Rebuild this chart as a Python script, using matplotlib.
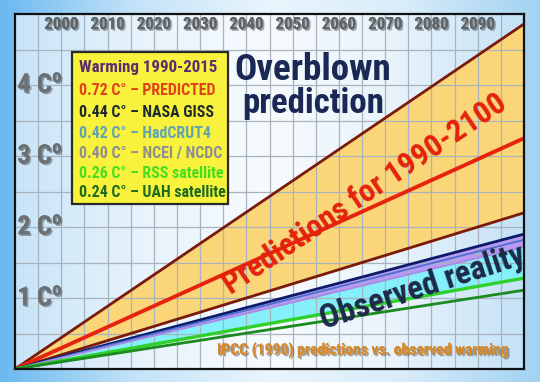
import numpy as np
import matplotlib
matplotlib.use("Agg")
import matplotlib.pyplot as plt
import matplotlib.patheffects as pe
from matplotlib.colors import LinearSegmentedColormap
from matplotlib.patches import Rectangle
from matplotlib import font_manager

# data: warming (C) reached in 2100, lines start at 1990 / 0
years = [1990, 2100]
pred_upper = [0, 4.86]
pred_central = [0, 3.25]
pred_lower = [0, 2.20]
obs_names = ["NASA GISS", "HadCRUT4", "NCEI / NCDC", "RSS satellite", "UAH satellite"]
obs_2100 = [1.90, 1.82, 1.72, 1.28, 1.11]
obs_colors = ["#0b1a6a", "#4a6fd0", "#a98ae6", "#2fd02a", "#1b8a1f"]
obs_widths = [2.0, 1.3, 1.3, 2.4, 2.0]

legend_title = "Warming 1990-2015"
legend_lines = ["0.72 C° – PREDICTED", "0.44 C° – NASA GISS", "0.42 C° – HadCRUT4",
                "0.40 C° – NCEI / NCDC", "0.26 C° – RSS satellite", "0.24 C° – UAH satellite"]
legend_colors = ["#e0401a", "#1e2a30", "#5fa3b4", "#8e8e8e", "#44e020", "#1d6a1d"]

decades = list(range(2000, 2100, 10))
degrees = [1, 2, 3, 4]

# narrow font if there is one, text is fitted to measured widths anyway
names = {f.name for f in font_manager.fontManager.ttflist}
family = "Liberation Sans"
for cand in ["Liberation Sans Narrow", "Roboto Condensed", "Open Sans Condensed", "Liberation Sans"]:
    if cand in names:
        family = cand
        break
plt.rcParams["font.family"] = [family, "DejaVu Sans"]
plt.rcParams["font.weight"] = "bold"
plt.rcParams["mathtext.fontset"] = "custom"
plt.rcParams["mathtext.bf"] = family + ":bold"

fig = plt.figure(figsize=(5.4, 3.82), dpi=100)

# outer background gradient
bg = fig.add_axes([0, 0, 1, 1], zorder=-10)
cmap_out = LinearSegmentedColormap.from_list("out", ["#6cb9f0", "#c4e3f8", "#eaf5fd", "#d8ecf9", "#a2d2f2"])
bg.imshow(np.linspace(0, 1, 256)[None, :], cmap=cmap_out, aspect="auto", extent=[0, 1, 0, 1])
bg.axis("off")

ax = fig.add_axes([15 / 540, 13 / 382, 509 / 540, 355 / 382])
ax.set_xlim(1990, 2100)
ax.set_ylim(0, 5)

# inner background gradient
cmap_in = LinearSegmentedColormap.from_list("inn", ["#c8e4f8", "#e8f3fc", "#f7fbfe", "#e8f3fb", "#c4e2f7"])
ax.imshow(np.linspace(0, 1, 256)[None, :], cmap=cmap_in, aspect="auto",
          extent=[1990, 2100, 0, 5], zorder=0)

# grid every 5 years / 0.5 degree
for x in np.arange(1995, 2100, 5):
    ax.axvline(x, color="#a9b3bd", lw=0.9, zorder=2.5)
for y in np.arange(0.5, 5, 0.5):
    ax.axhline(y, color="#a9b3bd", lw=0.9, zorder=2.5)

yrs = np.array(years)
ax.fill_between(yrs, pred_lower, pred_upper, color="#fbd679", zorder=1)
nasa = [0, obs_2100[0]]
ncei = [0, obs_2100[2]]
rss = [0, obs_2100[3]]
ax.fill_between(yrs, ncei, nasa, color="#b89af0", zorder=1)
ax.fill_between(yrs, rss, ncei, color="#86f0fa", zorder=1)

ax.plot(yrs, pred_upper, color="#7a1a0c", lw=2.0, zorder=3)
ax.plot(yrs, pred_lower, color="#7a1a0c", lw=2.0, zorder=3)
ax.plot(yrs, pred_central, color="#e8230d", lw=2.8, zorder=3)
for v, c, w in zip(obs_2100, obs_colors, obs_widths):
    ax.plot(yrs, [0, v], color=c, lw=w, zorder=3)

shadow = [pe.withSimplePatchShadow(offset=(1.2, -1.2), shadow_rgbFace="#404040", alpha=0.45), pe.Normal()]

fits = []  # (text, width in px, rotation)

for d in decades:
    t = ax.text(d, 4.85, str(d), ha="center", va="center", fontsize=12,
                color="#5e6468", path_effects=shadow, zorder=6)
    fits.append((t, 34, 0))
for g in degrees:
    t = ax.text(1995.4, g, str(g) + r" C$^{\bf o}$", ha="center", va="center", fontsize=15,
                color="#6b7074", path_effects=shadow, zorder=6)
    fits.append((t, 46, 0))

# legend box
ax.add_patch(Rectangle((2002.3, 2.32), 33.7, 2.14, facecolor="#f8f23c",
                       edgecolor="#2a2a2a", lw=1.6, zorder=5))
t = ax.text(2003.8, 4.24, legend_title, ha="left", va="center", fontsize=12,
            color="#5a2d6c", zorder=6)
fits.append((t, 138, 0))
ys = [3.92, 3.61, 3.32, 3.04, 2.76, 2.48]
entries = []
for y, s, c in zip(ys, legend_lines, legend_colors):
    entries.append(ax.text(2003.8, y, s, ha="left", va="center", fontsize=11, color=c, zorder=6))

t = ax.text(2054.4, 4.07, "Overblown", ha="center", va="baseline", fontsize=27,
            color="#1a2856", zorder=6)
fits.append((t, 157, 0))
t = ax.text(2054.4, 3.60, "prediction", ha="center", va="baseline", fontsize=27,
            color="#1a2856", zorder=6)
fits.append((t, 142, 0))
t = ax.text(2065.6, 2.46, "Predictions for 1990-2100", ha="center", va="center",
            fontsize=23, color="#e3220c", zorder=6, rotation_mode="anchor")
fits.append((t, 335, 34))
t = ax.text(2078.0, 1.15, "Observed reality", ha="center", va="center", fontsize=21,
            color="#1b2a48", zorder=6, rotation_mode="anchor")
fits.append((t, 215, 18))
t = ax.text(2065.2, 0.27, "IPCC (1990) predictions vs. observed warming", ha="center",
            va="center", fontsize=11.5, color="#d6892c", path_effects=shadow, zorder=6)
fits.append((t, 293, 0))

renderer = fig.canvas.get_renderer()
for t, w, rot in fits:
    t.set_rotation(0)
    ext = t.get_window_extent(renderer)
    t.set_fontsize(t.get_fontsize() * w / ext.width)
    t.set_rotation(rot)

# one size for all legend entries, set from the PREDICTED line
ext = entries[0].get_window_extent(renderer)
fs = entries[0].get_fontsize() * 137 / ext.width
for t in entries:
    t.set_fontsize(fs)

ax.set_xticks([])
ax.set_yticks([])
for s in ax.spines.values():
    s.set_linewidth(1.6)
    s.set_color("#111111")
    s.set_zorder(7)

fig.savefig("out.png", dpi=100)
